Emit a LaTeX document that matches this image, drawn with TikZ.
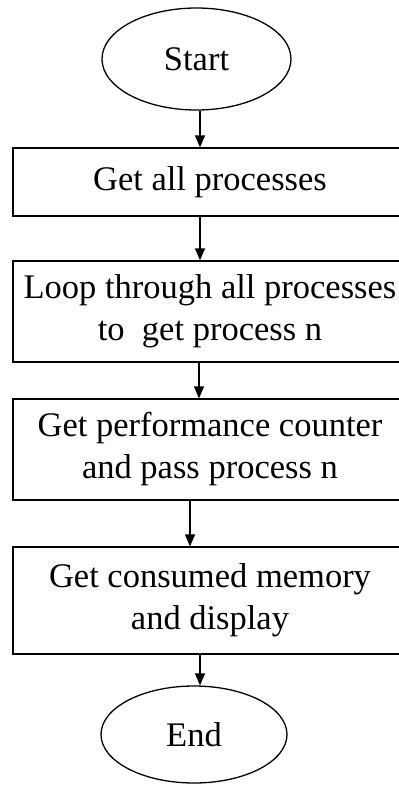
\documentclass[tikz,border=0pt]{standalone}
\usepackage{fontspec}
\setmainfont{Liberation Serif}
\usetikzlibrary{shapes.geometric,arrows.meta}
\tikzset{
  flowtext/.style={font=\fontsize{34.5}{42}\selectfont, align=center, text=black},
  terminal/.style={flowtext, draw, ellipse, line width=1.3pt, inner sep=0pt},
  stepbox/.style={flowtext, draw, rectangle, line width=1.3pt, minimum width=394pt, inner sep=0pt},
  arr/.style={-{Triangle[width=10pt,length=12pt]}, line width=1.3pt}
}
\begin{document}
\begin{tikzpicture}[x=1pt,y=-1pt]
  \useasboundingbox (0,0) rectangle (399,785);
  % terminals
  \node[terminal, minimum width=189pt, minimum height=102pt] (s) at (196.5,59) {Start};
  \node[terminal, minimum width=186pt, minimum height=97pt] (e) at (194,734.5) {End};
  % process steps (right edge runs past the page)
  \node[stepbox, minimum height=68pt]  (b1) at (210,182)   {Get all processes};
  \node[stepbox, minimum height=101pt] (b2) at (210,311.5) {Loop through all processes\\to\ \ get process n};
  \node[stepbox, minimum height=101pt] (b3) at (210,449.5) {Get performance counter\\and pass process n};
  \node[stepbox, minimum height=107pt] (b4) at (210,600.5) {Get consumed memory\\and display};
  % connectors
  \draw[arr] ([xshift=3.5pt]s.south) -- ([xshift=-10pt]b1.north);
  \draw[arr] ([xshift=-10pt]b1.south) -- ([xshift=-10pt]b2.north);
  \draw[arr] ([xshift=-11pt]b2.south) -- ([xshift=-11pt]b3.north);
  \draw[arr] ([xshift=-20pt]b3.south) -- ([xshift=-20pt]b4.north);
  \draw[arr] ([xshift=-10pt]b4.south) -- ([xshift=6pt]e.north);
\end{tikzpicture}
\end{document}
